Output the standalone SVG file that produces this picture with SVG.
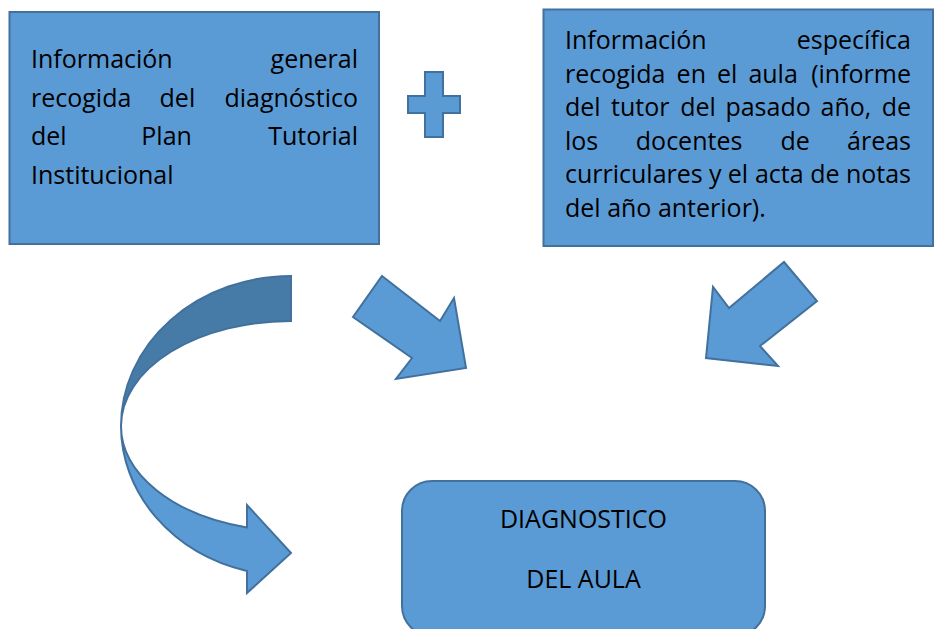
<svg xmlns="http://www.w3.org/2000/svg" width="940" height="629" viewBox="0 0 940 629">
  <style>
    .shape { fill: #5B9BD5; stroke: #41719C; stroke-width: 2; stroke-linejoin: miter; }
    .dark { fill: #477BA7; stroke: #41719C; stroke-width: 2; }
    .t { font-family: "Open Sans", "Liberation Sans", sans-serif; font-size: 25px; fill: #000; }
    .s { text-anchor: start; }
    .m { text-anchor: middle; }
    .e { text-anchor: end; }
  </style>
  <rect width="940" height="629" fill="#ffffff"/>

  <g id="node-general">
    <rect class="shape" x="9.5" y="12" width="369.5" height="232"/>
    <g class="t">
      <text class="s" x="31" y="68">Información</text>
      <text class="e" x="358" y="68">general</text>
      <text class="s" x="31" y="106.5">recogida</text>
      <text class="m" x="177.4" y="106.5">del</text>
      <text class="e" x="358" y="106.5">diagnóstico</text>
      <text class="s" x="31" y="145">del</text>
      <text class="m" x="166.6" y="145">Plan</text>
      <text class="e" x="358" y="145">Tutorial</text>
      <text class="s" x="31" y="183.5">Institucional</text>
    </g>
  </g>

  <g id="plus">
    <polygon class="shape" points="425,72 443,72 443,96 460,96 460,113 443,113 443,137 425,137 425,113 408,113 408,96 425,96"/>
  </g>

  <g id="node-especifica">
    <rect class="shape" x="543.5" y="9.5" width="389.5" height="236.5"/>
    <g class="t">
      <text class="s" x="565" y="49">Información</text>
      <text class="e" x="911" y="49">específica</text>

      <text class="s" x="565" y="82.5">recogida</text>
      <text class="m" x="691.3" y="82.5">en</text>
      <text class="m" x="727.2" y="82.5">el</text>
      <text class="m" x="773.1" y="82.5">aula</text>
      <text class="e" x="911" y="82.5">(informe</text>

      <text class="s" x="565" y="116">del</text>
      <text class="m" x="640.3" y="116">tutor</text>
      <text class="m" x="698" y="116">del</text>
      <text class="m" x="768.1" y="116">pasado</text>
      <text class="m" x="845.9" y="116">año,</text>
      <text class="e" x="911" y="116">de</text>

      <text class="s" x="565" y="149.5">los</text>
      <text class="m" x="689.1" y="149.5">docentes</text>
      <text class="m" x="795.1" y="149.5">de</text>
      <text class="e" x="911" y="149.5">áreas</text>

      <text class="s" x="565" y="183">curriculares</text>
      <text class="m" x="715.2" y="183">y</text>
      <text class="m" x="738" y="183">el</text>
      <text class="m" x="779.3" y="183">acta</text>
      <text class="m" x="824.8" y="183">de</text>
      <text class="e" x="911" y="183">notas</text>

      <text class="s" x="565" y="216.5">del año anterior).</text>
    </g>
  </g>

  <g id="node-diagnostico">
    <rect class="shape" x="402" y="481" width="363" height="155" rx="30" ry="30"/>
    <g class="t">
      <text class="m" x="583.5" y="528">DIAGNOSTICO</text>
      <text class="m" x="583.5" y="588">DEL AULA</text>
    </g>
  </g>

  <g id="connectors">
    <g id="curved-arrow">
      <path class="dark" d="M 291,276 A 170,150 0 0 0 121,426 A 170,105 0 0 1 291,321 Z"/>
      <path class="shape" d="M 121,426 A 170,150 0 0 0 247,571 L 247,593 L 291,553 L 247,505 L 247,527.4 A 170,105 0 0 1 121,426 Z"/>
    </g>
    <polygon id="arrow-left" class="shape" points="382,276 440,321 454,298 466,368 396,379 412,358 353,317"/>
    <polygon id="arrow-right" class="shape" points="784,262 817,301 760,346 778,366 706,358 713,287 729,308"/>
  </g>
</svg>
